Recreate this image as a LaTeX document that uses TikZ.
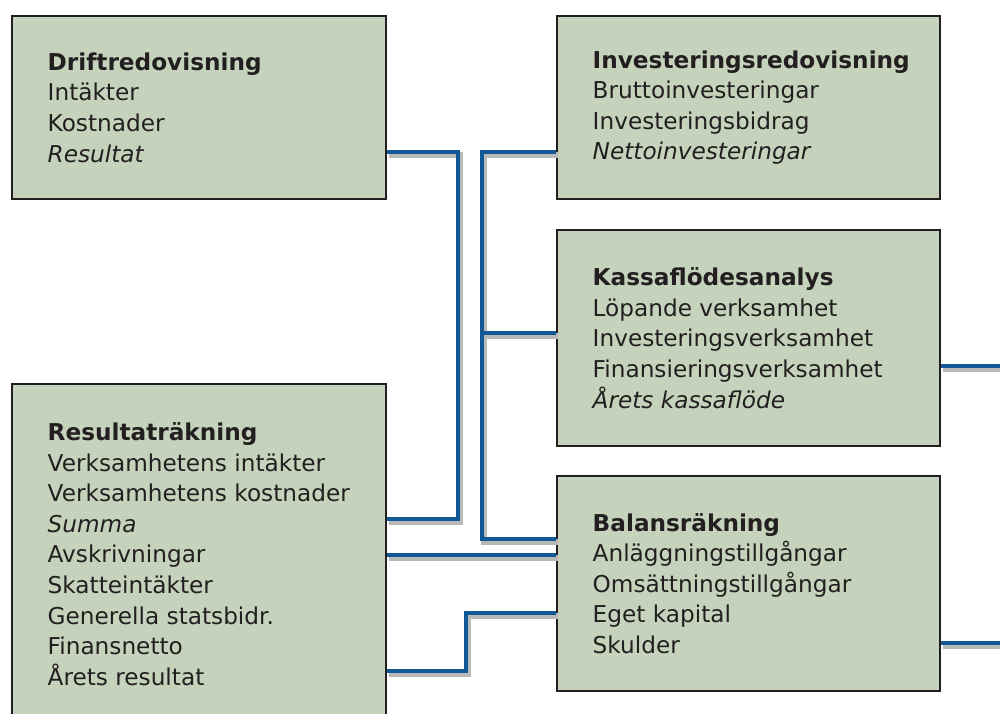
\documentclass[tikz,border=0pt]{standalone}
\usepackage{fontspec}
\setmainfont{DejaVu Sans}
\usetikzlibrary{calc,positioning}
\definecolor{boxgreen}{RGB}{197,211,188}
\definecolor{linkblue}{RGB}{18,88,150}
\definecolor{inkgray}{RGB}{35,31,32}
\begin{document}
\begin{tikzpicture}
[box/.style={draw=inkgray,line width=0.6pt,fill=boxgreen,anchor=north west,
	inner sep=0pt},
boxtext/.style={anchor=west,inner sep=0pt,align=left,text=inkgray,
	font=\fontsize{6.6}{8.7}\selectfont},
link/.style={draw=linkblue,line width=1.3pt,
	preaction={draw=black!28,line width=1.5pt,
	transform canvas={shift={(0.02,-0.03)}}}}]
\useasboundingbox (0,0) rectangle (10,-7.13);
\clip (0,0) rectangle (10,-7.13);
% boxes
\node[box,minimum width=3.74cm,minimum height=1.83cm] (drift) at (0.11,-0.15) {};
\node[box,minimum width=3.74cm,minimum height=3.40cm] (resr) at (0.11,-3.83) {};
\node[box,minimum width=3.83cm,minimum height=1.83cm] (inv) at (5.56,-0.15) {};
\node[box,minimum width=3.83cm,minimum height=2.16cm] (kassa) at (5.56,-2.29) {};
\node[box,minimum width=3.83cm,minimum height=2.15cm] (balans) at (5.56,-4.75) {};
% texts
\node[boxtext,right=0.36cm of drift.west] (drifttxt)
	{\textbf{Driftredovisning}\\Intäkter\\Kostnader\\\textit{Resultat}};
\node[boxtext,right=0.36cm of resr.west] (resrtxt)
	{\textbf{Resultaträkning}\\Verksamhetens intäkter\\Verksamhetens kostnader\\
	\textit{Summa}\\Avskrivningar\\Skatteintäkter\\Generella statsbidr.\\
	Finansnetto\\Årets resultat};
\node[boxtext,right=0.36cm of inv.west] (invtxt)
	{\textbf{Investeringsredovisning}\\Bruttoinvesteringar\\
	Investeringsbidrag\\\textit{Nettoinvesteringar}};
\node[boxtext,right=0.36cm of kassa.west] (kassatxt)
	{\textbf{Kassaflödesanalys}\\Löpande verksamhet\\Investeringsverksamhet\\
	Finansieringsverksamhet\\\textit{Årets kassaflöde}};
\node[boxtext,right=0.36cm of balans.west] (balanstxt)
	{\textbf{Balansräkning}\\Anläggningstillgångar\\Omsättningstillgångar\\
	Eget kapital\\Skulder};
\coordinate (out1) at (10.2,-3.66);
\coordinate (out2) at (10.2,-6.43);
% connectors
\draw[link] (drift.east |- 0,-1.52) -| (4.58,-5.19) -- (resr.east |- 0,-5.19);
\draw[link] (inv.west |- 0,-1.52) -| (4.82,-5.39) -- (balans.west |- 0,-5.39);
\draw[link] (4.82,-3.33) -- (kassa.west |- 0,-3.33);
\draw[link] (resr.east |- 0,-5.55) -- (balans.west |- 0,-5.55);
\draw[link] (resr.east |- 0,-6.71) -| (4.66,-6.13) -- (balans.west |- 0,-6.13);
\draw[link] (kassa.east |- out1) -- (out1);
\draw[link] (balans.east |- out2) -- (out2);
\end{tikzpicture}
\end{document}
